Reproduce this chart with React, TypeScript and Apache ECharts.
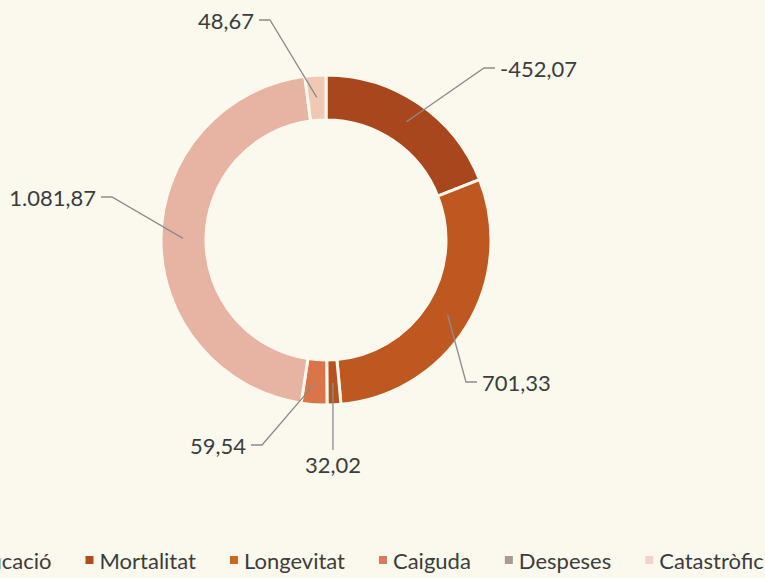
import React, { useEffect, useRef } from "react";
import * as echarts from "echarts";

// ---- data ----
const CATEGORIES = ["Diversificació", "Mortalitat", "Longevitat", "Caiguda", "Despeses", "Catastròfic"];
const VALUES = [-452.07, 701.33, 32.02, 59.54, 1081.87, 48.67];

// ---- styles ----
const SLICE_COLORS = ["#A8461D", "#BF5820", "#B5521F", "#D97548", "#E7B3A3", "#F1C8B3"];
const LEGEND_COLORS = ["#A8451D", "#B24A1D", "#CC681C", "#D97A5C", "#A99A93", "#F0D4CC"];
const BG = "#FBF8EE";

// label placement (text anchor) per slice
const LABEL_LAYOUT = [
  { x: 500, y: 68, align: "left" },
  { x: 482, y: 382, align: "left" },
  { x: 330, y: 453, align: "center" },
  { x: 246, y: 445, align: "right" },
  { x: 96, y: 197, align: "right" },
  { x: 254, y: 20, align: "right" },
];

function fmt(v: number): string {
  const neg = v < 0;
  const a = Math.abs(v);
  const fixed = a.toFixed(2);
  const [ip, dp] = fixed.split(".");
  const grouped = ip.replace(/\B(?=(\d{3})+(?!\d))/g, ".");
  return (neg ? "-" : "") + grouped + "," + dp;
}

export default function App() {
  const ref = useRef<HTMLDivElement>(null);
  useEffect(() => {
    document.body.style.background = BG;
    const chart = echarts.init(ref.current!, null, { renderer: "svg" });
    const INSET = 22;
    const pieData = CATEGORIES.map((c, i) => ({
      name: c,
      value: Math.abs(VALUES[i]),
      raw: VALUES[i],
      itemStyle: { color: SLICE_COLORS[i] },
    }));
    const common = {
      type: "pie",
      center: [326, 240],
      radius: [120, 165],
      startAngle: 90,
      clockwise: true,
      avoidLabelOverlap: false,
      silent: true,
    };
    chart.setOption({
      animation: false,
      backgroundColor: BG,
      legend: {
        left: -99,
        top: 544,
        width: 1200,
        itemGap: 32,
        itemWidth: 10,
        itemHeight: 10,
        icon: "rect",
        data: CATEGORIES.map((c, i) => ({ name: c, itemStyle: { color: LEGEND_COLORS[i] } })),
        textStyle: { fontFamily: "Lato", fontSize: 22, color: "#3c3c3c" },
      },
      series: [
        {
          ...common,
          z: 2,
          itemStyle: { borderColor: BG, borderWidth: 3 },
          label: { show: false },
          labelLine: { show: false },
          data: pieData,
        },
        {
          ...common,
          z: 5,
          itemStyle: { color: "rgba(0,0,0,0)", borderWidth: 0 },
          label: {
            show: true,
            position: "outside",
            fontFamily: "Lato",
            fontSize: 22,
            color: "#3c3c3c",
            formatter: (p: any) => fmt(p.data.raw),
          },
          labelLine: {
            show: true,
            length: 15,
            length2: 10,
            lineStyle: { color: "#8c8c8c", width: 1.3 },
          },
          labelLayout: (params: any) => {
            const L = LABEL_LAYOUT[params.dataIndex];
            const pts = params.labelLinePoints;
            let start = [L.x, L.y];
            if (pts && pts.length >= 2) {
              const dx = pts[1][0] - pts[0][0];
              const dy = pts[1][1] - pts[0][1];
              const len = Math.hypot(dx, dy) || 1;
              start = [pts[0][0] - (dx / len) * INSET, pts[0][1] - (dy / len) * INSET];
            }
            let end: number[];
            let elbow: number[];
            let x = L.x;
            let verticalAlign = "middle";
            if (L.align === "right") {
              end = [L.x + 5, L.y];
              elbow = [end[0] + 11, L.y];
            } else if (L.align === "left") {
              end = [L.x - 5, L.y];
              elbow = [end[0] - 11, L.y];
            } else {
              end = [start[0], L.y - 3];
              elbow = [start[0], (start[1] + end[1]) / 2];
              x = start[0];
              verticalAlign = "top";
            }
            return {
              x,
              y: L.y,
              align: L.align,
              verticalAlign,
              labelLinePoints: [start, elbow, end],
            };
          },
          data: pieData.map((d) => ({ ...d, itemStyle: { color: "rgba(0,0,0,0)", borderWidth: 0 } })),
        },
      ],
    });
    return () => chart.dispose();
  }, []);
  return (
    <div
      ref={ref}
      style={{ position: "fixed", left: 0, top: 0, width: 765, height: 578, background: BG }}
    />
  );
}
